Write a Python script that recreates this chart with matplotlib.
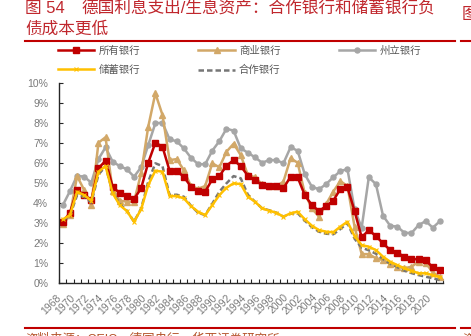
import numpy as np
import matplotlib
matplotlib.use('Agg')
import matplotlib.pyplot as plt
from matplotlib.ticker import FuncFormatter, MultipleLocator

plt.rcParams['font.family'] = ['Liberation Sans', 'Noto Sans CJK SC']

years = list(range(1968, 2022))

# interest expense / earning assets, in %
all_banks = [3.05, 3.5, 4.63, 4.38, 4.13, 5.72, 6.1, 4.8, 4.47, 4.35,
             4.18, 4.72, 6.0, 7.0, 6.8, 5.6, 5.58, 5.3, 4.8, 4.58,
             4.55, 5.17, 5.33, 5.85, 6.13, 5.83, 5.35, 5.13, 4.88, 4.83,
             4.83, 4.72, 5.3, 5.27, 4.38, 3.88, 3.58, 3.83, 4.1, 4.68,
             4.77, 3.58, 2.27, 2.63, 2.33, 1.97, 1.63, 1.5, 1.3, 1.18,
             1.17, 1.12, 0.77, 0.63]
commercial = [2.92, 3.38, 5.33, 4.63, 3.88, 7.0, 7.27, 4.6, 4.1, 4.05,
              4.05, 5.47, 7.8, 9.47, 8.39, 6.13, 6.18, 5.63, 4.83, 4.7,
              4.83, 5.97, 5.77, 6.55, 6.95, 6.38, 5.38, 5.28, 4.92, 4.83,
              4.83, 5.05, 6.22, 6.0, 4.47, 3.72, 3.3, 3.93, 4.55, 5.08,
              4.83, 2.8, 1.43, 1.43, 1.22, 1.13, 0.93, 0.8, 0.72, 0.8,
              1.05, 1.0, 0.5, 0.3]
landesbanken = [3.88, 4.58, 5.35, 5.3, 5.0, 6.18, 6.77, 6.05, 5.83, 5.67,
                5.3, 5.77, 6.88, 7.97, 8.0, 7.17, 7.07, 6.72, 6.25, 5.93,
                5.92, 6.6, 7.08, 7.7, 7.6, 6.72, 6.5, 6.27, 6.0, 6.13,
                6.13, 5.97, 6.77, 6.6, 5.42, 4.8, 4.67, 4.93, 5.27, 5.58,
                5.68, 3.67, 2.75, 5.27, 4.93, 3.35, 2.85, 2.8, 2.5, 2.48,
                2.88, 3.08, 2.75, 3.08]
savings = [3.17, 3.38, 4.55, 4.38, 4.1, 5.55, 5.83, 4.47, 3.88, 3.58,
           3.05, 3.67, 4.88, 5.6, 5.55, 4.33, 4.33, 4.22, 3.83, 3.55,
           3.38, 3.88, 4.38, 4.75, 4.97, 4.93, 4.3, 4.05, 3.72, 3.6,
           3.5, 3.3, 3.47, 3.55, 3.17, 2.85, 2.63, 2.55, 2.52, 2.8,
           3.05, 2.33, 1.88, 1.8, 1.63, 1.3, 1.05, 0.88, 0.72, 0.6,
           0.47, 0.47, 0.38, 0.27]
cooperative = [3.13, 3.35, 4.38, 4.3, 4.0, 5.4, 5.83, 4.5, 3.95, 3.6,
               3.05, 3.7, 5.05, 5.97, 5.83, 4.38, 4.4, 4.3, 3.85, 3.5,
               3.38, 3.95, 4.55, 4.97, 5.33, 5.22, 4.4, 4.05, 3.72, 3.62,
               3.5, 3.3, 3.45, 3.48, 3.1, 2.78, 2.55, 2.45, 2.42, 2.68,
               2.98, 2.2, 1.75, 1.62, 1.45, 1.18, 0.95, 0.78, 0.6, 0.48,
               0.38, 0.3, 0.22, 0.13]

RED = '#C00000'
TAN = '#D2A868'
GRAY = '#A6A6A6'
GOLD = '#FFC000'
DASH = '#767676'

fig = plt.figure(figsize=(4.71, 3.36), dpi=100)
ax = fig.add_axes([59.3 / 471, 1 - 282.7 / 336, (443.5 - 59.3) / 471, 200 / 336])

x = np.arange(len(years))
lw = 1.8
h_state, = ax.plot(x, np.array(landesbanken) / 100, color=GRAY, lw=lw, marker='o', ms=3.6,
                   label='州立银行')
h_comm, = ax.plot(x, np.array(commercial) / 100, color=TAN, lw=lw, marker='^', ms=4.6,
                  label='商业银行')
h_all, = ax.plot(x, np.array(all_banks) / 100, color=RED, lw=lw, marker='s', ms=4.2,
                 label='所有银行')
h_coop, = ax.plot(x, np.array(cooperative) / 100, color=DASH, lw=lw, ls=(0, (2.2, 1.2)),
                  label='合作银行')
h_sav, = ax.plot(x, np.array(savings) / 100, color=GOLD, lw=lw, marker='x', ms=3.5, mew=0.8,
                 label='储蓄银行')

ax.set_xlim(-0.5, len(years) - 0.5)
ax.set_ylim(0, 0.10)
ax.yaxis.set_major_locator(MultipleLocator(0.01))
ax.yaxis.set_major_formatter(FuncFormatter(lambda v, _: '{:.0f}%'.format(v * 100)))

ax.set_xticks(x[::2])
ax.set_xticklabels([str(y) for y in years[::2]], rotation=45, ha='right', va='top')
ax.set_xticks(np.arange(-0.5, len(years)), minor=True)

for side in ['top', 'right']:
    ax.spines[side].set_visible(False)
for side in ['left', 'bottom']:
    ax.spines[side].set_color('#262626')
    ax.spines[side].set_linewidth(1.0)

ax.tick_params(axis='y', direction='in', length=3, width=0.8, color='#262626',
               labelsize=7.5, labelcolor='#7A7A7A', pad=8)
ax.tick_params(axis='x', which='major', length=0, labelsize=7.5, labelcolor='#7A7A7A', pad=7)
ax.tick_params(axis='x', which='minor', direction='in', length=3, width=0.8, color='#262626')

leg = fig.legend([h_all, h_sav, h_comm, h_coop, h_state],
                 ['所有银行', '储蓄银行', '商业银行', '合作银行', '州立银行'],
                 ncol=3, loc='upper left', bbox_to_anchor=(58 / 471, 1 - 46 / 336),
                 frameon=False, fontsize=7.5, handlelength=3.5, handletextpad=0.4,
                 columnspacing=5.6, labelspacing=0.85, borderpad=0, borderaxespad=0)
for t in leg.get_texts():
    t.set_color('#595959')

# title, rules and source note
TITLE_RED = '#C0272D'
fig.text(25 / 471, 1 - 8 / 336, '图 54', color=TITLE_RED, fontsize=12, va='center', ha='left')
fig.text(81 / 471, 1 - 8 / 336, '德国利息支出/生息资产：合作银行和储蓄银行负',
         color=TITLE_RED, fontsize=12, va='center', ha='left')
fig.text(25 / 471, 1 - 29 / 336, '债成本更低', color=TITLE_RED, fontsize=12, va='center', ha='left')
fig.text(462 / 471, 1 - 15 / 336, '图', color=TITLE_RED, fontsize=12, va='center', ha='left')

for yy in (41, 328):
    fig.add_artist(plt.Line2D([25 / 471, 455 / 471], [1 - yy / 336] * 2, color=RED, lw=1.5))
    fig.add_artist(plt.Line2D([461 / 471, 1.0], [1 - yy / 336] * 2, color=RED, lw=1.5))

fig.text(25 / 471, 1 - 333 / 336, '资料来源：CEIC，德国央行，华西证券研究所', color='#B4532A',
         fontsize=9, va='top', ha='left')
fig.text(462 / 471, 1 - 333 / 336, '资', color='#B4532A', fontsize=9, va='top', ha='left')

fig.savefig('out.png', dpi=100)
